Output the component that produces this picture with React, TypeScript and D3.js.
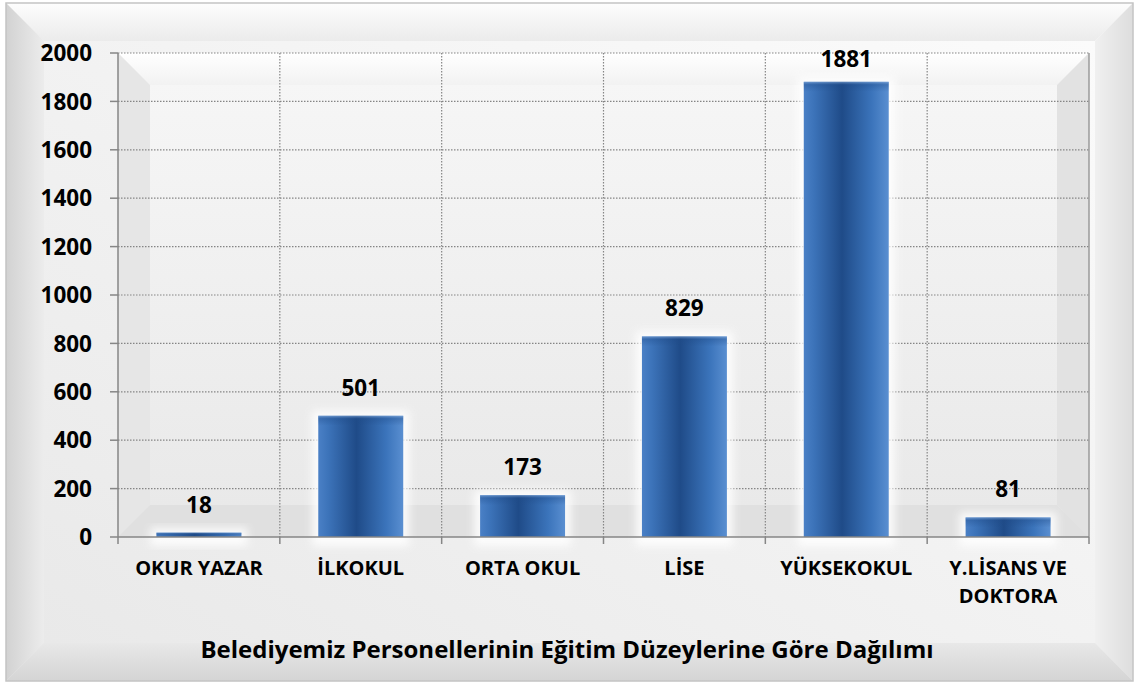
import React from "react";
import * as d3 from "d3";

const categories: string[][] = [
  ["OKUR YAZAR"],
  ["İLKOKUL"],
  ["ORTA OKUL"],
  ["LİSE"],
  ["YÜKSEKOKUL"],
  ["Y.LİSANS VE", "DOKTORA"],
];
const values: number[] = [18, 501, 173, 829, 1881, 81];
const yTicks: number[] = [0, 200, 400, 600, 800, 1000, 1200, 1400, 1600, 1800, 2000];
const title = "Belediyemiz Personellerinin Eğitim Düzeylerine Göre Dağılımı";

const W = 1137;
const H = 684;
const FONT = "'Open Sans', Lato, sans-serif";

export default function App() {
  const plot = { left: 118, right: 1089, top: 53, bottom: 537 };
  const keys = categories.map((_, i) => String(i));
  const x = d3
    .scaleBand<string>()
    .domain(keys)
    .range([plot.left, plot.right])
    .paddingInner(0.475)
    .paddingOuter(0.2375);
  const y = d3.scaleLinear().domain([0, 2000]).range([plot.bottom, plot.top]);
  const step = x.step();
  const boundaries = d3.range(categories.length + 1).map((i) => plot.left + i * step);

  const F = { x: 6, y: 3, w: 1127, h: 678, b: 38 };
  const fx0 = F.x, fy0 = F.y, fx1 = F.x + F.w, fy1 = F.y + F.h, b = F.b;
  const pb = 32;

  return (
    <svg width={W} height={H} style={{ display: "block", position: "absolute", left: 0, top: 0 }}>
      <defs>
        <linearGradient id="face" x1="0" y1="1" x2="1" y2="0">
          <stop offset="0" stopColor="#e9e9e9" />
          <stop offset="1" stopColor="#fbfbfb" />
        </linearGradient>
        <linearGradient id="topBand" x1="0" y1="0" x2="0" y2="1">
          <stop offset="0" stopColor="#fdfdfd" />
          <stop offset="1" stopColor="#ebebeb" />
        </linearGradient>
        <linearGradient id="leftBand" x1="0" y1="0" x2="1" y2="0">
          <stop offset="0" stopColor="#d2d2d2" />
          <stop offset="1" stopColor="#ececec" />
        </linearGradient>
        <linearGradient id="rightBand" x1="0" y1="0" x2="1" y2="0">
          <stop offset="0" stopColor="#f0f0f0" />
          <stop offset="1" stopColor="#dddddd" />
        </linearGradient>
        <linearGradient id="bottomBand" x1="0" y1="0" x2="0" y2="1">
          <stop offset="0" stopColor="#e8e8e8" />
          <stop offset="1" stopColor="#d4d4d4" />
        </linearGradient>
        <linearGradient id="plotFill" x1="0" y1="0" x2="0" y2="1">
          <stop offset="0" stopColor="#f6f6f6" />
          <stop offset="1" stopColor="#e9e9e9" />
        </linearGradient>
        <linearGradient id="pTop" x1="0" y1="0" x2="0" y2="1">
          <stop offset="0" stopColor="#ffffff" />
          <stop offset="1" stopColor="#f2f2f2" />
        </linearGradient>
        <linearGradient id="barGrad" x1="0" y1="0" x2="1" y2="0">
          <stop offset="0" stopColor="#4a80c6" />
          <stop offset="0.12" stopColor="#3c73b9" />
          <stop offset="0.45" stopColor="#1f4b88" />
          <stop offset="0.8" stopColor="#3b74bb" />
          <stop offset="1" stopColor="#5a8fd1" />
        </linearGradient>
        <linearGradient id="barTop" x1="0" y1="0" x2="0" y2="1">
          <stop offset="0" stopColor="#8fb3e0" stopOpacity="0.6" />
          <stop offset="0.3" stopColor="#1f4b88" stopOpacity="0.35" />
          <stop offset="1" stopColor="#1f4b88" stopOpacity="0" />
        </linearGradient>
        <filter id="glow" x="-20%" y="-20%" width="140%" height="140%">
          <feGaussianBlur stdDeviation="4" />
        </filter>
      </defs>

      {/* outer frame */}
      <rect x={fx0} y={fy0} width={F.w} height={F.h} fill="url(#face)" />
      <polygon points={`${fx0},${fy0} ${fx1},${fy0} ${fx1 - b},${fy0 + b} ${fx0 + b},${fy0 + b}`} fill="url(#topBand)" />
      <polygon points={`${fx0},${fy0} ${fx0 + b},${fy0 + b} ${fx0 + b},${fy1 - b} ${fx0},${fy1}`} fill="url(#leftBand)" />
      <polygon points={`${fx1},${fy0} ${fx1},${fy1} ${fx1 - b},${fy1 - b} ${fx1 - b},${fy0 + b}`} fill="url(#rightBand)" />
      <polygon points={`${fx0},${fy1} ${fx0 + b},${fy1 - b} ${fx1 - b},${fy1 - b} ${fx1},${fy1}`} fill="url(#bottomBand)" />
      <rect x={fx0 + b} y={fy0 + b} width={F.w - 2 * b} height={F.h - 2 * b} fill="url(#face)" />
      <rect x={fx0} y={fy0} width={F.w} height={F.h} fill="none" stroke="#c4c4c4" strokeWidth={1.5} />

      {/* plot area */}
      <rect x={plot.left} y={plot.top} width={plot.right - plot.left} height={plot.bottom - plot.top} fill="url(#plotFill)" />
      <polygon points={`${plot.left},${plot.top} ${plot.right},${plot.top} ${plot.right - pb},${plot.top + pb} ${plot.left + pb},${plot.top + pb}`} fill="url(#pTop)" />
      <polygon points={`${plot.left},${plot.top} ${plot.left + pb},${plot.top + pb} ${plot.left + pb},${plot.bottom - pb} ${plot.left},${plot.bottom}`} fill="#e6e6e6" />
      <polygon points={`${plot.right},${plot.top} ${plot.right},${plot.bottom} ${plot.right - pb},${plot.bottom - pb} ${plot.right - pb},${plot.top + pb}`} fill="#e2e2e2" />
      <polygon points={`${plot.left},${plot.bottom} ${plot.left + pb},${plot.bottom - pb} ${plot.right - pb},${plot.bottom - pb} ${plot.right},${plot.bottom}`} fill="#e0e0e0" />
      <rect x={plot.left + pb} y={plot.top + pb} width={plot.right - plot.left - 2 * pb} height={plot.bottom - plot.top - 2 * pb} fill="url(#plotFill)" opacity={0.9} />

      {/* grid */}
      {yTicks.filter((t) => t > 0).map((t) => (
        <line key={"h" + t} x1={plot.left} x2={plot.right} y1={y(t)} y2={y(t)} stroke="#858585" strokeWidth={1.2} strokeDasharray="1.5 1.5" />
      ))}
      {boundaries.slice(1, -1).map((bx, i) => (
        <line key={"v" + i} x1={bx} x2={bx} y1={plot.top} y2={plot.bottom} stroke="#858585" strokeWidth={1.2} strokeDasharray="1.5 1.5" />
      ))}
      <line x1={plot.right} x2={plot.right} y1={plot.top} y2={plot.bottom} stroke="#9a9a9a" strokeWidth={1.5} />

      {/* bars */}
      {values.map((v, i) => {
        const bx = x(String(i))!;
        const bw = x.bandwidth();
        const top = y(v);
        const h = plot.bottom - top;
        return (
          <g key={"b" + i}>
            <rect x={bx - 6} y={top - 5} width={bw + 12} height={h + 14} fill="#ffffff" opacity={0.85} filter="url(#glow)" />
            <rect x={bx} y={top} width={bw} height={h} fill="url(#barGrad)" />
            <rect x={bx} y={top} width={bw} height={Math.min(h, 10)} fill="url(#barTop)" />
          </g>
        );
      })}

      {/* axes */}
      <line x1={plot.left} x2={plot.left} y1={plot.top} y2={plot.bottom} stroke="#868686" strokeWidth={1.5} />
      <line x1={plot.left} x2={plot.right} y1={plot.bottom} y2={plot.bottom} stroke="#868686" strokeWidth={1.5} />
      {yTicks.map((t) => (
        <line key={"yt" + t} x1={plot.left - 8} x2={plot.left} y1={y(t)} y2={y(t)} stroke="#868686" strokeWidth={1.5} />
      ))}
      {boundaries.map((bx, i) => (
        <line key={"xt" + i} x1={bx} x2={bx} y1={plot.bottom} y2={plot.bottom + 7} stroke="#868686" strokeWidth={1.5} />
      ))}

      {/* y labels */}
      {yTicks.map((t) => (
        <text key={"yl" + t} x={92} y={y(t)} dy="0.36em" textAnchor="end" fontFamily={FONT} fontWeight={700} fontSize={22.5} fill="#000">
          {t}
        </text>
      ))}

      {/* value labels */}
      {values.map((v, i) => (
        <text
          key={"vl" + i}
          x={x(String(i))! + x.bandwidth() / 2}
          y={Math.max(y(v) - 20, plot.top + 14)}
          textAnchor="middle"
          fontFamily={FONT}
          fontWeight={700}
          fontSize={22.5}
          fill="#000"
        >
          {v}
        </text>
      ))}

      {/* category labels */}
      {categories.map((lines, i) => (
        <text key={"cl" + i} textAnchor="middle" fontFamily={FONT} fontWeight={700} fontSize={20} fill="#000">
          {lines.map((ln, j) => (
            <tspan key={j} x={x(String(i))! + x.bandwidth() / 2} y={575 + j * 28}>
              {ln}
            </tspan>
          ))}
        </text>
      ))}

      {/* title */}
      <text x={567} y={658} textAnchor="middle" fontFamily={FONT} fontWeight={700} fontSize={24} fill="#000">
        {title}
      </text>
    </svg>
  );
}
